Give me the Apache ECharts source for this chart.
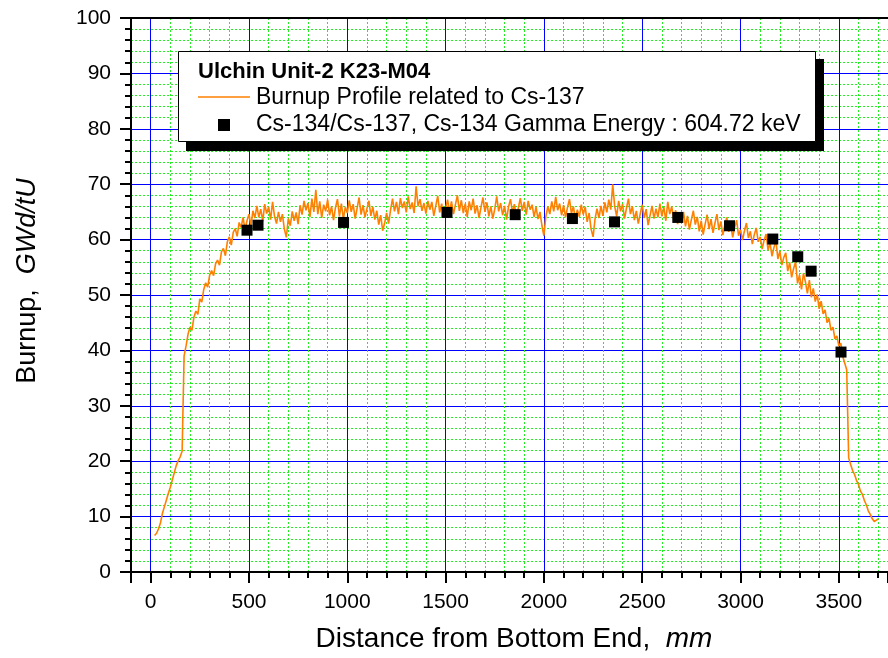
<!DOCTYPE html>
<html>
<head>
<meta charset="utf-8">
<script src="https://cdn.jsdelivr.net/npm/echarts@6/dist/echarts.min.js"></script>
<style>
  html, body { margin: 0; padding: 0; background: #fff; }
  #chart { width: 888px; height: 658px; }
</style>
</head>
<body>
<div id="chart"></div>
<script>
// burnup profile, every 10 mm from 20 mm
const profileStart = 20
const profileStep = 10
const profileBurnup = [
  6.6, 7.0, 7.8, 8.9, 10.6, 11.8, 13.0, 14.2, 15.3, 16.6, // 20
  17.9, 19.2, 20.1, 20.8, 21.8, 39.0, 40.8, 42.9, 44.2, 43.6, // 120
  46.0, 47.1, 46.5, 49.3, 48.7, 51.0, 52.2, 51.4, 53.6, 54.4, // 220
  53.5, 55.6, 56.3, 55.4, 57.8, 58.4, 57.1, 59.6, 60.5, 59.0, // 320
  61.3, 62.0, 60.6, 63.1, 62.2, 64.0, 61.8, 63.4, 64.6, 62.5, // 420
  65.2, 63.9, 66.1, 64.0, 65.5, 63.3, 66.4, 64.7, 65.9, 63.6, // 520
  66.8, 64.2, 62.9, 65.0, 63.2, 64.6, 61.9, 60.4, 63.8, 62.5, // 620
  65.1, 63.4, 64.9, 62.8, 66.2, 64.5, 67.0, 65.3, 66.6, 64.1, // 720
  67.4, 65.0, 69.0, 64.6, 66.9, 63.9, 66.3, 65.1, 67.2, 64.4, // 820
  66.0, 63.5, 65.8, 67.3, 64.2, 66.5, 63.7, 65.9, 64.8, 67.1, // 920
  65.0, 66.4, 63.8, 65.7, 67.6, 64.5, 66.2, 64.0, 65.6, 67.0, // 1020
  64.3, 65.9, 63.6, 65.2, 62.7, 64.4, 61.6, 63.0, 64.8, 62.9, // 1120
  65.3, 67.4, 65.1, 66.8, 64.6, 67.5, 65.7, 66.9, 64.9, 67.8, // 1220
  65.5, 66.7, 64.8, 69.6, 66.0, 67.3, 65.2, 66.6, 64.7, 67.0, // 1320
  65.4, 66.8, 64.3, 66.1, 67.9, 64.9, 66.5, 64.0, 65.6, 67.2, // 1420
  65.0, 66.9, 64.6, 66.3, 68.0, 65.2, 67.1, 64.8, 66.5, 64.1, // 1520
  66.9, 65.3, 67.4, 64.7, 66.2, 63.9, 65.8, 67.6, 65.0, 66.7, // 1620
  64.2, 66.0, 63.8, 65.5, 67.8, 65.1, 66.6, 64.4, 66.1, 63.6, // 1720
  65.9, 67.3, 64.9, 66.4, 64.0, 65.7, 67.5, 65.2, 66.8, 64.5, // 1820
  67.0, 65.4, 66.3, 64.1, 65.9, 63.7, 65.0, 62.5, 60.7, 64.2, // 1920
  66.0, 64.6, 66.9, 65.1, 67.7, 65.3, 66.5, 64.4, 66.2, 64.0, // 2020
  65.8, 67.3, 64.7, 66.0, 63.6, 65.4, 64.1, 66.3, 64.5, 65.9, // 2120
  63.2, 64.8, 61.9, 60.5, 63.7, 65.6, 63.9, 66.1, 64.3, 66.7, // 2220
  64.9, 67.2, 65.4, 70.0, 66.0, 64.2, 67.0, 65.1, 66.4, 63.8, // 2320
  65.7, 67.4, 64.6, 66.0, 63.5, 65.2, 62.9, 64.7, 66.3, 63.9, // 2420
  65.5, 62.6, 64.4, 66.1, 63.8, 65.6, 64.0, 66.5, 64.2, 65.9, // 2520
  63.4, 66.8, 64.6, 66.0, 63.7, 65.3, 62.8, 64.9, 63.1, 65.0, // 2620
  62.4, 64.3, 61.8, 63.6, 65.2, 62.7, 64.1, 61.5, 63.4, 60.9, // 2720
  62.8, 64.5, 61.9, 63.7, 61.2, 63.0, 64.6, 61.7, 63.3, 60.8, // 2820
  62.6, 64.0, 61.4, 62.9, 60.4, 62.2, 63.5, 60.7, 61.8, 59.9, // 2920
  61.6, 63.0, 60.3, 61.5, 59.2, 60.9, 62.1, 59.6, 60.5, 58.3, // 3020
  59.9, 61.0, 58.1, 59.4, 57.0, 58.6, 59.8, 56.5, 57.9, 55.4, // 3120
  56.8, 57.6, 54.3, 55.9, 53.2, 54.8, 56.0, 52.1, 53.6, 51.0, // 3220
  53.9, 52.4, 50.3, 52.7, 49.6, 51.2, 48.8, 50.1, 47.5, 48.9, // 3320
  46.6, 47.3, 45.0, 45.8, 43.6, 44.2, 42.1, 42.6, 40.8, 41.3, // 3420
  38.9, 39.2, 36.5, 20.6, 19.4, 18.3, 17.6, 16.5, 15.8, 14.6, // 3520
  14.0, 12.9, 12.1, 11.0, 10.4, 9.6, 9.1, 8.8, 9.6 // 3620
]

// Cs-134/Cs-137 measurement points
const pointX = [490, 546, 981, 1507, 1854, 2145, 2359, 2681, 2944, 3164, 3291, 3359, 3511]
const pointBurnup = [61.7, 62.6, 63.1, 64.9, 64.5, 63.8, 63.2, 64.0, 62.5, 60.1, 56.9, 54.3, 39.7]

const legendTitle = 'Ulchin Unit-2 K23-M04'
const lineName = 'Burnup Profile related to Cs-137'
const pointName = 'Cs-134/Cs-137, Cs-134 Gamma Energy : 604.72 keV'

const font = '"Liberation Sans", Arial, sans-serif'
const orange = '#ff8000'

const lineData = []
for (let i = 0; i < profileBurnup.length; i++) {
  lineData.push([profileStart + i * profileStep, profileBurnup[i]])
}
const pointData = []
for (let i = 0; i < pointX.length; i++) {
  pointData.push([pointX[i], pointBurnup[i]])
}

const myChart = echarts.init(document.getElementById('chart'))
myChart.setOption({
  animation: false,
  backgroundColor: '#fff',
  grid: { left: 131, top: 18, right: 0, bottom: 85 },
  xAxis: [
    {
      type: 'value',
      position: 'bottom',
      min: -100,
      max: 3750,
      minInterval: 500,
      maxInterval: 500,
      axisLine: { show: true, onZero: false, lineStyle: { color: '#000', width: 2 } },
      axisTick: { show: true, inside: false, length: 11, lineStyle: { color: '#000', width: 2 } },
      minorTick: { show: true, splitNumber: 5, length: 6, lineStyle: { color: '#000', width: 2 } },
      axisLabel: {
        show: true, margin: 20, color: '#000', fontSize: 21, fontFamily: font,
        showMinLabel: false, showMaxLabel: false,
        formatter: function(v) { return String(v) }
      },
      splitLine: { show: true, showMinLine: false, showMaxLine: false, lineStyle: { color: '#0000ff', width: 1 } },
      minorSplitLine: { show: true, lineStyle: { color: '#22ee22', width: 1, type: [2, 2] } },
      name: 'Distance from Bottom End,  {i|mm}',
      nameLocation: 'middle',
      nameGap: 53,
      nameTextStyle: {
        color: '#000', fontSize: 28, fontFamily: font, padding: [0, 0, 0, 9],
        rich: { i: { fontStyle: 'italic', fontSize: 28, fontFamily: font, color: '#000' } }
      }
    },
    {
      type: 'value',
      position: 'top',
      min: -100,
      max: 3750,
      axisLine: { show: true, onZero: false, lineStyle: { color: '#000', width: 2 } },
      axisTick: { show: false },
      axisLabel: { show: false },
      splitLine: { show: false }
    }
  ],
  yAxis: {
    type: 'value',
    min: 0,
    max: 100,
    interval: 10,
    axisLine: { show: true, onZero: false, lineStyle: { color: '#000', width: 2 } },
    axisTick: { show: true, inside: false, length: 11, lineStyle: { color: '#000', width: 2 } },
    minorTick: { show: true, splitNumber: 5, length: 6, lineStyle: { color: '#000', width: 2 } },
    axisLabel: { margin: 20, color: '#000', fontSize: 21, fontFamily: font },
    splitLine: { show: true, showMinLine: false, showMaxLine: false, lineStyle: { color: '#0000ff', width: 1 } },
    minorSplitLine: { show: true, lineStyle: { color: '#22ee22', width: 1, type: [2, 2] } },
    name: 'Burnup,  {i|GWd/tU}',
    nameLocation: 'middle',
    nameRotate: 90,
    nameGap: 90,
    nameTextStyle: {
      color: '#000', fontSize: 27, fontFamily: font, padding: [0, 0, 0, 28],
      rich: { i: { fontStyle: 'italic', fontSize: 27, fontFamily: font, color: '#000' } }
    }
  },
  series: [
    {
      name: lineName,
      type: 'line',
      data: lineData,
      symbol: 'none',
      lineStyle: { color: orange, width: 1.6 },
      z: 3
    },
    {
      name: pointName,
      type: 'scatter',
      data: pointData,
      symbol: 'rect',
      symbolSize: 11,
      itemStyle: { color: '#000', opacity: 1 },
      z: 4
    }
  ],
  // boxed legend with drop shadow, as in the original
  graphic: [
    { type: 'rect', z: 100, shape: { x: 186, y: 59, width: 638, height: 92 }, style: { fill: '#000' } },
    { type: 'rect', z: 101, shape: { x: 178.5, y: 51.5, width: 637, height: 90 }, style: { fill: '#fff', stroke: '#000', lineWidth: 1 } },
    { type: 'text', z: 102, x: 198, y: 72, style: { text: legendTitle, font: 'bold 22px ' + font, fill: '#000', verticalAlign: 'middle' } },
    { type: 'line', z: 102, shape: { x1: 198, y1: 97, x2: 250, y2: 97 }, style: { stroke: orange, lineWidth: 1.5 } },
    { type: 'text', z: 102, x: 256, y: 98, style: { text: lineName, font: '23px ' + font, fill: '#000', verticalAlign: 'middle' } },
    { type: 'rect', z: 102, shape: { x: 218, y: 119, width: 12, height: 12 }, style: { fill: '#000' } },
    { type: 'text', z: 102, x: 256, y: 124.5, style: { text: pointName, font: '23px ' + font, fill: '#000', verticalAlign: 'middle' } }
  ]
})
</script>
</body>
</html>
